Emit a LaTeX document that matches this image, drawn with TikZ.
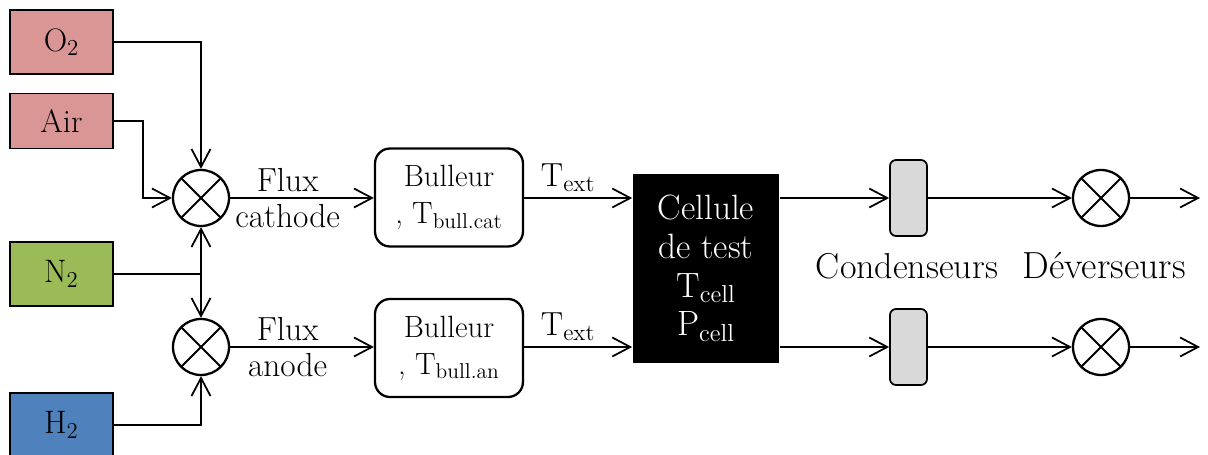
\documentclass[tikz,border=0pt]{standalone}
\usepackage{fontspec}
\usetikzlibrary{arrows.meta}
\definecolor{gazrouge}{HTML}{D99694}
\definecolor{gazvert}{HTML}{9BBB59}
\definecolor{gazbleu}{HTML}{4F81BD}
\definecolor{condgris}{HTML}{D9D9D9}
\begin{document}
\begin{tikzpicture}[x=0.02cm,y=-0.02cm,
  gaz/.style={draw,line width=1.1pt,minimum width=2.06cm,minimum height=1.28cm,font=\fontsize{18.5}{22}\selectfont},
  melange/.style={draw,circle,line width=1.3pt,minimum size=1.12cm,inner sep=0pt,
    path picture={\draw[line width=1.1pt] (path picture bounding box.north west) -- (path picture bounding box.south east)
      (path picture bounding box.north east) -- (path picture bounding box.south west);}},
  bulleur/.style={draw,rounded corners=0.3cm,line width=1.3pt,minimum width=2.96cm,minimum height=1.96cm,align=center,font=\fontsize{17.5}{21}\selectfont},
  condenseur/.style={draw,fill=condgris,rounded corners=0.12cm,line width=1pt,minimum width=0.74cm,minimum height=1.52cm},
  fleche/.style={-{Straight Barb[length=0.36cm,width=0.38cm]},line width=1pt},
  etiquette/.style={font=\fontsize{19}{20}\selectfont,align=center}]
\useasboundingbox (0,0) rectangle (1208,455);
% gaz d'entree
\node[gaz,fill=gazrouge] (o2) at (61.5,42) {O\textsubscript{2}};
\node[gaz,fill=gazrouge,minimum height=1.1cm] (air) at (61.5,121) {Air};
\node[gaz,fill=gazvert] (n2) at (61.5,274) {N\textsubscript{2}};
\node[gaz,fill=gazbleu] (h2) at (61.5,425) {H\textsubscript{2}};
% melangeurs
\node[melange] (mix1) at (201,198) {};
\node[melange] (mix2) at (201,347) {};
\coordinate (coude) at (143,121);
\draw[fleche] (o2.east) -| (mix1.north);
\draw[fleche] (air.east) -- (coude) |- (mix1.west);
\draw[line width=1pt] (n2.east) -- (n2.east -| mix1.south) coordinate (jonction);
\draw[fleche] (jonction) -- (mix1.south);
\draw[fleche] (jonction) -- (mix2.north);
\draw[fleche] (h2.east) -| (mix2.south);
% bulleurs et cellule
\node[bulleur] (bulcat) at (449,197.5) {Bulleur\\, T\textsubscript{bull.cat}};
\node[bulleur] (bulan) at (449,348) {Bulleur\\, T\textsubscript{bull.an}};
\node[fill=black,text=white,minimum width=2.94cm,minimum height=3.78cm,align=center,font=\fontsize{20}{22}\selectfont] (cell) at (706,268.5)
  {Cellule\\de test\\T\textsubscript{cell}\\P\textsubscript{cell}};
\draw[fleche] (mix1.east) -- node[etiquette,pos=0.4] {Flux\\cathode} (mix1.east -| bulcat.west);
\draw[fleche] (mix2.east) -- node[etiquette,pos=0.4] {Flux\\anode} (mix2.east -| bulan.west);
\draw[fleche] (bulcat.east |- mix1.east) -- node[etiquette,above,xshift=-0.2cm] {T\textsubscript{ext}} (mix1.east -| cell.west);
\draw[fleche] (bulan.east |- mix2.east) -- node[etiquette,above,xshift=-0.2cm] {T\textsubscript{ext}} (mix2.east -| cell.west);
% sorties
\node[condenseur] (cond1) at (908.5,198) {};
\node[condenseur] (cond2) at (908.5,347) {};
\node[melange] (dev1) at (1101,198) {};
\node[melange] (dev2) at (1101,347) {};
\coordinate (sortie1) at (1200,198);
\coordinate (sortie2) at (1200,347);
\draw[fleche] (cell.east |- cond1.west) -- (cond1.west);
\draw[fleche] (cell.east |- cond2.west) -- (cond2.west);
\draw[fleche] (cond1.east) -- (dev1.west);
\draw[fleche] (cond2.east) -- (dev2.west);
\draw[fleche] (dev1.east) -- (sortie1);
\draw[fleche] (dev2.east) -- (sortie2);
\node[etiquette,font=\fontsize{20.5}{22}\selectfont] (lcond) at (907,266) {Condenseurs};
\node[etiquette,font=\fontsize{21.5}{22}\selectfont] (ldev) at (1104,266) {Déverseurs};
\end{tikzpicture}
\end{document}
